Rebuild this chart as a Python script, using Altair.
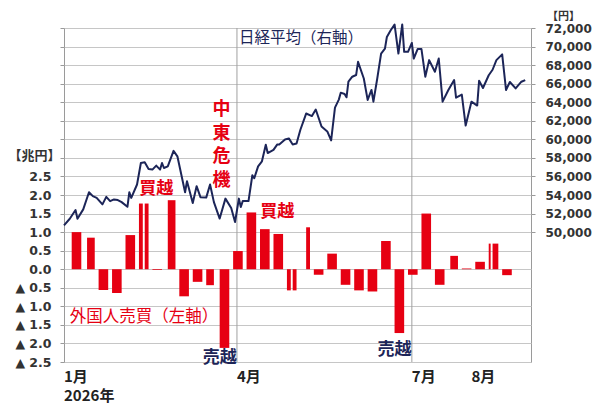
import altair as alt
import pandas as pd

# ---------------- data ----------------
# weekly net buying of Japanese stocks by foreign investors (trillion yen)
week_start = ["2026-01-05", "2026-01-12", "2026-01-19", "2026-01-26", "2026-02-02", "2026-02-09",
              "2026-02-16", "2026-02-23", "2026-03-02", "2026-03-09", "2026-03-16", "2026-03-23",
              "2026-03-30", "2026-04-06", "2026-04-13", "2026-04-20", "2026-04-27", "2026-05-04",
              "2026-05-11", "2026-05-18", "2026-05-25", "2026-06-01", "2026-06-08", "2026-06-15",
              "2026-06-22", "2026-06-29", "2026-07-06", "2026-07-13", "2026-07-20", "2026-07-27",
              "2026-08-03", "2026-08-10", "2026-08-17"]
flows = [1.00, 0.85, -0.56, -0.64, 0.92, 1.77, -0.02, 1.86, -0.73, -0.34, -0.43, -2.12,
         0.49, 1.53, 1.08, 0.95, -0.57, 1.13, -0.15, 0.42, -0.42, -0.57, -0.60, 0.76,
         -1.72, -0.15, 1.50, -0.42, 0.36, 0.02, 0.20, 0.69, -0.16]
holidays = ["2026-01-12", "2026-02-11", "2026-02-23", "2026-03-20", "2026-04-29",
            "2026-05-04", "2026-05-05", "2026-05-06", "2026-07-20", "2026-08-11"]

# Nikkei average (yen)
nk_dates = ["2026-01-01", "2026-01-04", "2026-01-07", "2026-01-08", "2026-01-11", "2026-01-14",
            "2026-01-16", "2026-01-18", "2026-01-21", "2026-01-23", "2026-01-25", "2026-01-27",
            "2026-01-29", "2026-01-31", "2026-02-03", "2026-02-04", "2026-02-05", "2026-02-08",
            "2026-02-10", "2026-02-12", "2026-02-14", "2026-02-16", "2026-02-18", "2026-02-20",
            "2026-02-21", "2026-02-22", "2026-02-24", "2026-02-27", "2026-03-01", "2026-03-05",
            "2026-03-06", "2026-03-09", "2026-03-11", "2026-03-13", "2026-03-16", "2026-03-18",
            "2026-03-20", "2026-03-23", "2026-03-26", "2026-03-29", "2026-03-31", "2026-04-02",
            "2026-04-03", "2026-04-04", "2026-04-07", "2026-04-09", "2026-04-10", "2026-04-12",
            "2026-04-14", "2026-04-16", "2026-04-17", "2026-04-20", "2026-04-22", "2026-04-23",
            "2026-04-26", "2026-04-28", "2026-04-30", "2026-05-02", "2026-05-04", "2026-05-07",
            "2026-05-10", "2026-05-12", "2026-05-15", "2026-05-18", "2026-05-20", "2026-05-22",
            "2026-05-24", "2026-05-25", "2026-05-27", "2026-05-28", "2026-05-29", "2026-05-31",
            "2026-06-02", "2026-06-03", "2026-06-06", "2026-06-08", "2026-06-10", "2026-06-11",
            "2026-06-13", "2026-06-15", "2026-06-17", "2026-06-18", "2026-06-20", "2026-06-22",
            "2026-06-24", "2026-06-26", "2026-06-27", "2026-06-29", "2026-07-01", "2026-07-02",
            "2026-07-04", "2026-07-06", "2026-07-08", "2026-07-10", "2026-07-13", "2026-07-15",
            "2026-07-17", "2026-07-20", "2026-07-23", "2026-07-24", "2026-07-27", "2026-07-29",
            "2026-08-01", "2026-08-04", "2026-08-05", "2026-08-07", "2026-08-10", "2026-08-12",
            "2026-08-14", "2026-08-17", "2026-08-19", "2026-08-21", "2026-08-24", "2026-08-27",
            "2026-08-29"]
nk_values = [50730, 51440, 52380, 51440, 52450, 54300, 53880, 53690, 52990, 53800, 53340, 53520,
             53450, 53230, 52730, 54300, 53690, 55130, 57450, 57520, 56800, 56740, 57170, 56740,
             57450, 56910, 57090, 58760, 58170, 54300, 55490, 53130, 54950, 53770, 53720, 55130,
             53230, 51460, 53610, 52590, 51090, 53610, 52700, 53340, 53340, 56130, 55810, 57090,
             57630, 59420, 58520, 58860, 59450, 59450, 59990, 60100, 59450, 59560, 61030, 62780,
             62510, 63210, 61380, 60850, 59880, 63420, 64280, 65030, 64890, 64530, 66210, 66750,
             66930, 68350, 66560, 64250, 65320, 64060, 66560, 69240, 69780, 71030, 71750, 72380,
             69240, 72380, 69430, 69430, 70390, 68710, 69730, 69730, 66750, 68540, 67280, 68710,
             64060, 65320, 66390, 64490, 64820, 61490, 64060, 63640, 66320, 65530, 66910, 67500,
             68540, 69160, 65320, 66180, 65490, 66210, 66390]

left_ticks = [-2.5, -2.0, -1.5, -1.0, -0.5, 0.0, 0.5, 1.0, 1.5, 2.0, 2.5,
              3.0, 3.5, 4.0, 4.5, 5.0, 5.5, 6.0, 6.5]
right_ticks = [50000, 52000, 54000, 56000, 58000, 60000, 62000, 64000, 66000, 68000, 70000, 72000]
month_dates = ["2026-01-01", "2026-04-01", "2026-07-01", "2026-08-01"]
month_labels = ["1月", "4月", "7月", "8月"]
year_label = ["2026年"]
divider_dates = ["2026-04-01", "2026-07-01"]

# ---------------- styling ----------------
RED = "#e60012"
NAVY = "#1c2558"
FONT = "Noto Sans CJK JP"
NUMFONT = "DejaVu Sans"
W, H = 467, 334

def ms(s):
    return int(pd.Timestamp(s, tz="UTC").value // 10**6)

x_scale = alt.Scale(type="utc", domain=[ms("2026-01-01"), ms("2026-09-01")], nice=False)

# bars: one rectangle per run of trading days in each week
rows = []
hol = set(holidays)
for ws, v in zip(week_start, flows):
    days = [pd.Timestamp(ws) + pd.Timedelta(days=i) for i in range(5)]
    trading = [d for d in days if d.strftime("%Y-%m-%d") not in hol]
    seg = [trading[0]]
    for d in trading[1:]:
        if (d - seg[-1]).days > 1:
            rows.append({"d": seg[0].strftime("%Y-%m-%d"),
                         "d2": (seg[-1] + pd.Timedelta(days=1)).strftime("%Y-%m-%d"),
                         "v": v, "z": 0.0})
            seg = [d]
        else:
            seg.append(d)
    rows.append({"d": seg[0].strftime("%Y-%m-%d"),
                 "d2": (seg[-1] + pd.Timedelta(days=1)).strftime("%Y-%m-%d"),
                 "v": v, "z": 0.0})
bars_df = pd.DataFrame(rows)

left_label_expr = ("datum.value > 2.5 ? '' : (datum.value < 0 ? '▲ ' + format(-datum.value, '.1f')"
                   " : format(datum.value, '.1f'))")

left_axis = alt.Axis(values=left_ticks, tickCount=60, labelExpr=left_label_expr, labelOverlap=False,
                     grid=True, gridColor="#c6c6c6", gridWidth=1, domain=False, tickSize=4,
                     tickColor="#9a9a9a", labelPadding=9,
                     labelFont=NUMFONT, labelFontSize=12.5, labelFontWeight="bold", labelColor="#333333",
                     title="【兆円】", titleAngle=0, titleX=-30, titleY=127, titleAlign="center",
                     titleBaseline="middle", titleFont=FONT, titleFontSize=13, titleFontWeight="bold",
                     titleColor="#333333")
y_left = alt.Scale(domain=[-2.5, 6.5], nice=False, zero=False)

bars = alt.Chart(bars_df).mark_bar(color=RED).encode(
    x=alt.X("d:T", scale=x_scale, axis=None),
    x2="d2:T",
    y=alt.Y("v:Q", scale=y_left, axis=left_axis),
    y2="z:Q",
)

dividers = alt.Chart(pd.DataFrame({"d": divider_dates})).mark_rule(
    color="#a0a0a0", strokeWidth=1).encode(x=alt.X("d:T", scale=x_scale, axis=None))

# month labels; the first one carries the year on a second line
x_labels = [month_labels[0] + "\n" + year_label[0]] + month_labels[1:]
month_text = alt.Chart(pd.DataFrame({"d": month_dates, "lab": x_labels})).mark_text(
    align="left", baseline="middle", font=FONT, fontSize=15, fontWeight="bold", color="#222222",
    lineBreak="\n", lineHeight=19
).encode(x=alt.X("d:T", scale=x_scale, axis=None), y=alt.value(H + 15), text="lab:N")


def note(texts, dates, vals, color, size, weight, align="center", **kw):
    df = pd.DataFrame({"t": texts, "d": dates, "v": vals})
    return alt.Chart(df).mark_text(align=align, baseline="middle", font=FONT, fontSize=size,
                                   fontWeight=weight, color=color, **kw).encode(
        x=alt.X("d:T", scale=x_scale, axis=None),
        y=alt.Y("v:Q", scale=y_left),
        text="t:N")

n_nikkei = note(["日経平均（右軸）"], ["2026-04-01"], [6.22], NAVY, 15.5, "normal", align="left", dx=2)
n_crisis = note(["中\n東\n危\n機"], ["2026-03-24"], [4.28], RED, 18, "bold", lineBreak="\n", lineHeight=23.5)
n_buy = note(["買越", "買越"], ["2026-02-18", "2026-04-22"], [2.15, 1.53], RED, 17, "bold")
n_sell = note(["売越", "売越"], ["2026-03-23", "2026-06-22"], [-2.40, -2.19], NAVY, 17, "bold")
n_foreign = note(["外国人売買（左軸）"], ["2026-01-04"], [-1.29], RED, 16.5, "normal", align="left")

left_group = alt.layer(dividers, bars, n_nikkei, n_crisis, n_buy, n_sell, n_foreign, month_text)

right_axis = alt.Axis(orient="right", values=right_ticks, tickCount=60, labelOverlap=False,
                      format=",d", grid=False, domain=False,
                      tickSize=4, tickColor="#9a9a9a", labelPadding=10, labelFont=NUMFONT,
                      labelFontSize=12, labelFontWeight="bold", labelColor="#333333",
                      title="【円】", titleAngle=0, titleX=32, titleY=-12, titleAlign="center",
                      titleBaseline="middle", titleFont=FONT, titleFontSize=11,
                      titleFontWeight="bold", titleColor="#333333")

line = alt.Chart(pd.DataFrame({"d": nk_dates, "p": nk_values})).mark_line(
    color=NAVY, strokeWidth=2, strokeJoin="round").encode(
    x=alt.X("d:T", scale=x_scale, axis=None),
    y=alt.Y("p:Q", scale=alt.Scale(domain=[36000, 72000], nice=False, zero=False), axis=right_axis),
)

chart = alt.layer(left_group, line).resolve_scale(y="independent").properties(
    width=W, height=H,
    autosize=alt.AutoSizeParams(type="none"),
    padding={"left": 56, "top": 20, "right": 61, "bottom": 42},
    background="white",
).configure_view(stroke="#9a9a9a", strokeWidth=1)

chart.save("out.html", embed_options={"renderer": "svg", "actions": False})
